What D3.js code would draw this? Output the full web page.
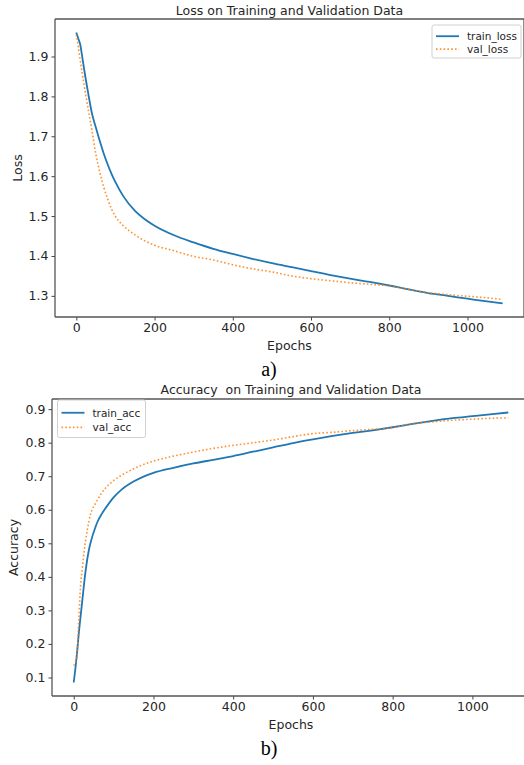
<!DOCTYPE html>
<html>
<head>
<meta charset="utf-8">
<script src="https://cdn.jsdelivr.net/npm/d3@7"></script>
<style>
  html, body { margin: 0; padding: 0; background: #fff; }
  svg { display: block; }
  text { font-family: "DejaVu Sans", sans-serif; fill: #262626; }
</style>
</head>
<body>
<svg id="chart" width="524" height="765"></svg>
<script>
// ---------------- data ----------------
const lossEpochs  = [0, 5, 10, 15, 20, 30, 40, 50, 60, 70, 80, 90, 100, 120, 150, 175, 200, 250, 300, 350, 400, 450, 500, 550, 600, 650, 700, 750, 800, 850, 900, 950, 1000, 1050, 1090];
const trainLoss   = [1.960, 1.945, 1.930, 1.900, 1.868, 1.810, 1.757, 1.722, 1.688, 1.657, 1.630, 1.606, 1.585, 1.550, 1.513, 1.492, 1.476, 1.452, 1.434, 1.418, 1.405, 1.393, 1.382, 1.372, 1.362, 1.352, 1.343, 1.335, 1.326, 1.316, 1.307, 1.300, 1.293, 1.286, 1.281];
const valLoss     = [1.955, 1.925, 1.890, 1.858, 1.828, 1.770, 1.715, 1.655, 1.610, 1.573, 1.543, 1.518, 1.499, 1.476, 1.453, 1.438, 1.427, 1.413, 1.399, 1.390, 1.378, 1.368, 1.360, 1.350, 1.343, 1.338, 1.333, 1.329, 1.325, 1.316, 1.308, 1.303, 1.299, 1.295, 1.291];

const accEpochs   = [0, 4, 8, 13, 17, 22, 26, 30, 38, 43, 55, 60, 70, 80, 100, 120, 150, 175, 200, 250, 300, 350, 400, 450, 500, 550, 600, 650, 700, 750, 800, 850, 900, 950, 1000, 1050, 1090];
const trainAcc    = [0.085, 0.125, 0.170, 0.235, 0.280, 0.335, 0.380, 0.420, 0.480, 0.505, 0.550, 0.565, 0.587, 0.605, 0.637, 0.660, 0.684, 0.699, 0.710, 0.725, 0.738, 0.749, 0.760, 0.773, 0.786, 0.799, 0.810, 0.820, 0.829, 0.837, 0.846, 0.856, 0.865, 0.873, 0.879, 0.885, 0.890];
const valAcc      = [0.135, 0.145, 0.160, 0.280, 0.370, 0.430, 0.475, 0.510, 0.565, 0.590, 0.620, 0.630, 0.650, 0.665, 0.687, 0.703, 0.722, 0.735, 0.745, 0.760, 0.772, 0.783, 0.792, 0.800, 0.808, 0.818, 0.827, 0.831, 0.836, 0.840, 0.845, 0.857, 0.862, 0.867, 0.870, 0.873, 0.874];

const xTicks      = [0, 200, 400, 600, 800, 1000];
const lossTicks   = [1.3, 1.4, 1.5, 1.6, 1.7, 1.8, 1.9];
const accTicks    = [0.1, 0.2, 0.3, 0.4, 0.5, 0.6, 0.7, 0.8, 0.9];

const panels = [
  { title: "Loss on Training and Validation Data", ylabel: "Loss", caption: "a)",
    epochs: lossEpochs, train: trainLoss, val: valLoss, yTicks: lossTicks,
    names: ["train_loss", "val_loss"] },
  { title: "Accuracy  on Training and Validation Data", ylabel: "Accuracy", caption: "b)",
    epochs: accEpochs, train: trainAcc, val: valAcc, yTicks: accTicks,
    names: ["train_acc", "val_acc"] }
];

// ---------------- layout ----------------
const layout = [
  { left: 55, right: 524, top: 19, bottom: 317, ylab: 17, titleY: 15, epochsY: 350, capY: 376,
    legend: { x: 432, y: 25, w: 89, h: 33 } },
  { left: 52, right: 530, top: 399, bottom: 696, ylab: 13, titleY: 394, epochsY: 729, capY: 755,
    legend: { x: 57.5, y: 400, w: 88, h: 37.5 } }
];

const BLUE = "#1f77b4", ORANGE = "#ff7f0e";
const svg = d3.select("#chart");

panels.forEach((p, i) => {
  const L = layout[i];
  const xmin = d3.min(p.epochs), xmax = d3.max(p.epochs);
  const allY = p.train.concat(p.val);
  const ymin = d3.min(allY), ymax = d3.max(allY);
  const xm = (xmax - xmin) * 0.05, ym = (ymax - ymin) * 0.05;

  const x = d3.scaleLinear().domain([xmin - xm, xmax + xm]).range([L.left, L.right]);
  const y = d3.scaleLinear().domain([ymin - ym, ymax + ym]).range([L.bottom, L.top]);

  const g = svg.append("g");

  // lines
  const line = d3.line().x(d => x(d[0])).y(d => y(d[1])).curve(d3.curveMonotoneX);
  g.append("path")
    .datum(p.epochs.map((e, k) => [e, p.train[k]]))
    .attr("d", line).attr("fill", "none")
    .attr("stroke", BLUE).attr("stroke-width", 1.8);
  g.append("path")
    .datum(p.epochs.map((e, k) => [e, p.val[k]]))
    .attr("d", line).attr("fill", "none")
    .attr("stroke", ORANGE).attr("stroke-opacity", 0.85)
    .attr("stroke-width", 1.6).attr("stroke-dasharray", "1.6,2.2");

  // axes
  const xAxis = d3.axisBottom(x).tickValues(xTicks).tickSize(3.5).tickPadding(3).tickFormat(d3.format("d"));
  const yAxis = d3.axisLeft(y).tickValues(p.yTicks).tickSize(3.5).tickPadding(3).tickFormat(d3.format(".1f"));

  const gx = g.append("g").attr("transform", `translate(0,${L.bottom})`).call(xAxis);
  const gy = g.append("g").attr("transform", `translate(${L.left},0)`).call(yAxis);
  [gx, gy].forEach(a => {
    a.select(".domain").remove();
    a.selectAll(".tick line").attr("stroke", "#444").attr("stroke-width", 1);
    a.selectAll(".tick text").attr("fill", "#262626").style("font-size", "12.5px")
      .style("font-family", "'DejaVu Sans', sans-serif");
  });

  // spines
  const sp = g.append("g").attr("stroke", "#555").attr("stroke-width", 1.3).attr("fill", "none");
  sp.append("line").attr("x1", L.left).attr("x2", L.left).attr("y1", L.top).attr("y2", L.bottom);
  sp.append("line").attr("x1", L.left).attr("x2", L.right).attr("y1", L.bottom).attr("y2", L.bottom);
  sp.append("line").attr("x1", L.left).attr("x2", L.right).attr("y1", L.top).attr("y2", L.top);
  sp.append("line").attr("x1", L.right).attr("x2", L.right).attr("y1", L.top).attr("y2", L.bottom);

  // title
  g.append("text").attr("x", (L.left + L.right) / 2).attr("y", L.titleY)
    .attr("text-anchor", "middle").style("font-size", "12.5px")
    .style("white-space", "pre").attr("xml:space", "preserve").text(p.title);

  // y label
  g.append("text")
    .attr("transform", `translate(${L.ylab},${(L.top + L.bottom) / 2}) rotate(-90)`)
    .attr("text-anchor", "middle").attr("dominant-baseline", "central")
    .style("font-size", "12.5px").text(p.ylabel);

  // x label
  g.append("text").attr("x", (L.left + L.right) / 2).attr("y", L.epochsY)
    .attr("text-anchor", "middle").style("font-size", "12.5px").text("Epochs");

  // caption
  g.append("text").attr("x", 269).attr("y", L.capY)
    .attr("text-anchor", "middle")
    .style("font-family", "'Liberation Serif', 'Times New Roman', serif")
    .style("font-size", "20px").style("fill", "#000").text(p.caption);

  // legend
  const lg = g.append("g").attr("transform", `translate(${L.legend.x},${L.legend.y})`);
  lg.append("rect").attr("width", L.legend.w).attr("height", L.legend.h)
    .attr("rx", 2).attr("fill", "#fff").attr("fill-opacity", 0.8)
    .attr("stroke", "#d0d0d0").attr("stroke-width", 1);
  p.names.forEach((nm, k) => {
    const yy = L.legend.h * (k === 0 ? 0.34 : 0.73);
    const ln = lg.append("line").attr("x1", 4).attr("x2", 27).attr("y1", yy).attr("y2", yy)
      .attr("stroke", k === 0 ? BLUE : ORANGE).attr("stroke-width", k === 0 ? 1.8 : 1.6);
    if (k === 1) ln.attr("stroke-dasharray", "1.6,2.2").attr("stroke-opacity", 0.85);
    lg.append("text").attr("x", 35).attr("y", yy).attr("dominant-baseline", "central")
      .style("font-size", "10.5px").text(nm);
  });
});
</script>
</body>
</html>
